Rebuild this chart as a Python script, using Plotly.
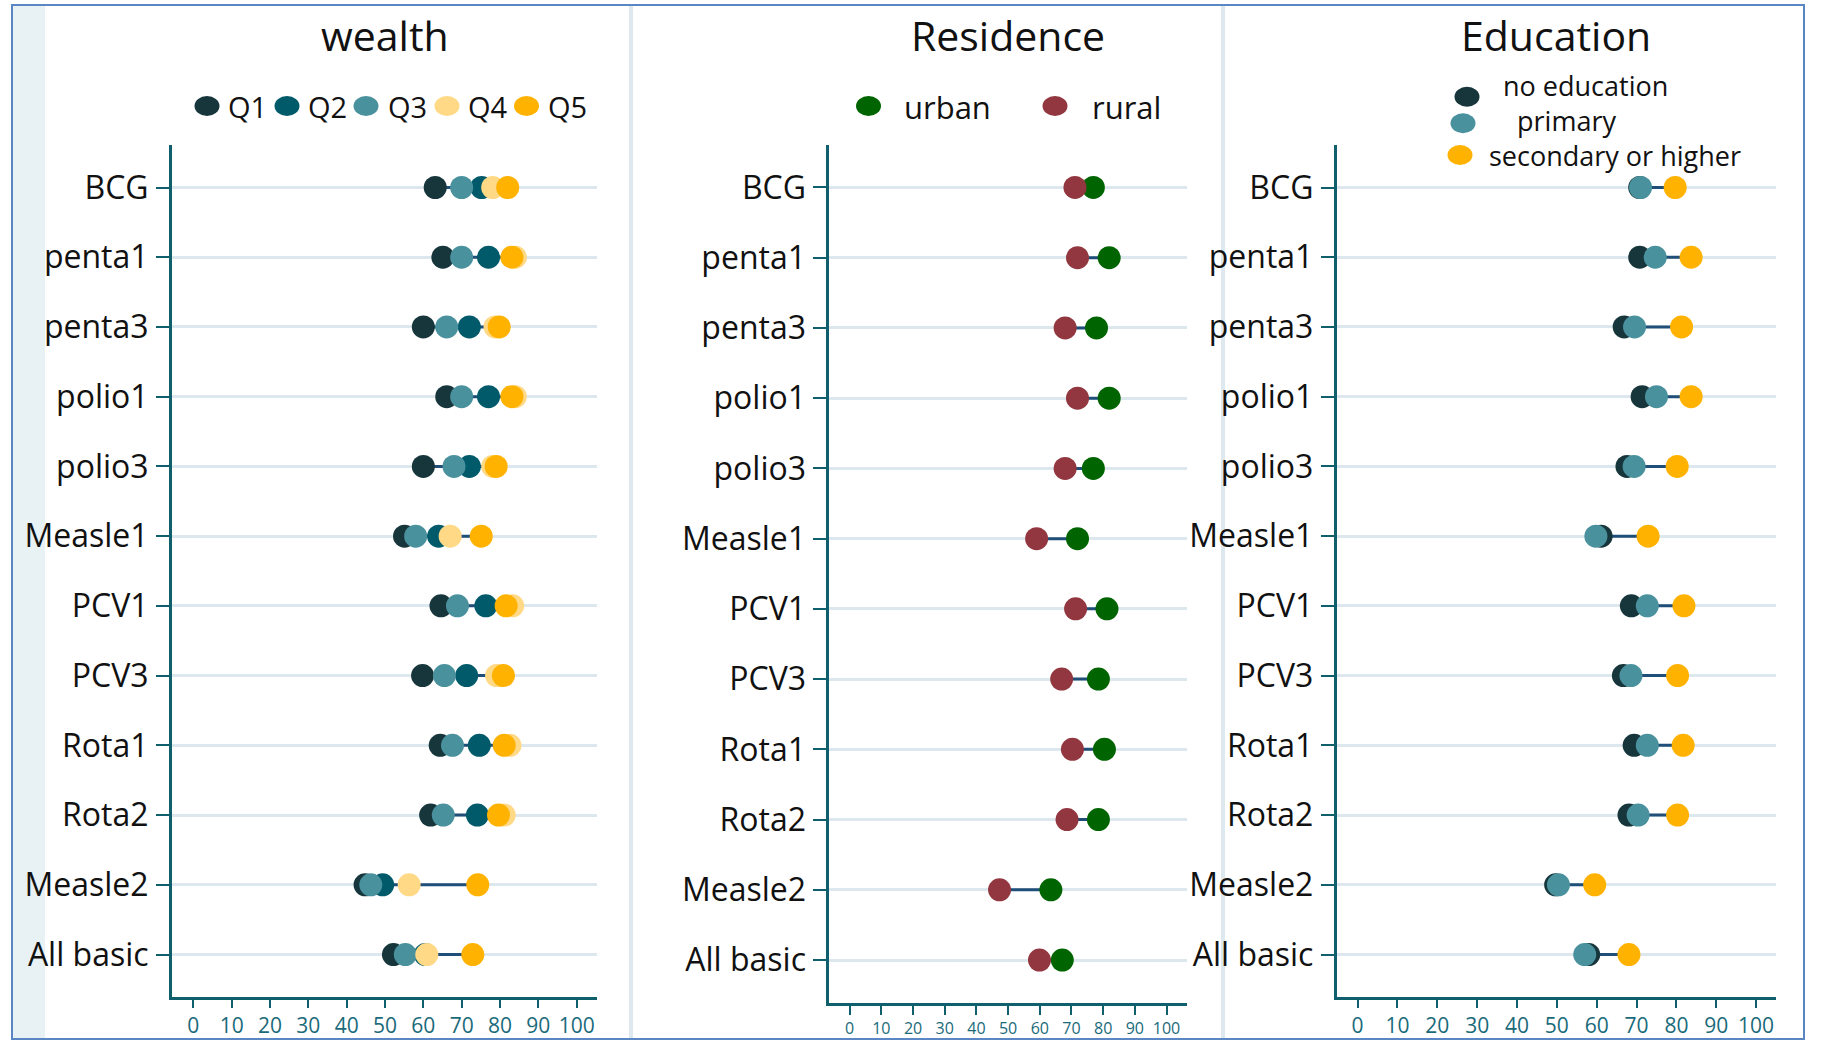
import plotly.graph_objects as go

W, H = 1825, 1041

vaccines = ["BCG", "penta1", "penta3", "polio1", "polio3", "Measle1",
            "PCV1", "PCV3", "Rota1", "Rota2", "Measle2", "All basic"]

# wealth quintiles
q1 = [63.1, 65.1, 60.0, 66.1, 60.0, 55.1, 64.6, 59.8, 64.4, 61.9, 44.8, 52.2]
q2 = [75.2, 77.0, 72.0, 77.0, 72.0, 64.0, 76.3, 71.3, 74.6, 74.1, 49.4, 60.5]
q3 = [70.0, 70.0, 66.1, 70.0, 68.0, 58.0, 68.9, 65.5, 67.6, 65.2, 46.3, 55.3]
q4 = [78.1, 84.0, 78.7, 84.0, 78.1, 67.0, 83.3, 79.1, 82.6, 81.1, 56.3, 60.9]
q5 = [82.0, 83.1, 79.8, 83.1, 79.0, 75.1, 81.6, 80.9, 81.1, 79.6, 74.2, 72.9]

# residence
urban = [76.9, 81.9, 77.9, 81.9, 76.9, 71.9, 81.2, 78.5, 80.4, 78.5, 63.5, 67.1]
rural = [71.1, 71.9, 68.0, 71.9, 68.0, 59.0, 71.3, 66.9, 70.3, 68.6, 47.3, 59.9]

# education
no_edu = [70.8, 70.8, 66.9, 71.4, 67.6, 61.1, 68.7, 66.7, 69.4, 68.1, 49.7, 58.0]
primary = [71.0, 74.7, 69.5, 75.0, 69.4, 59.8, 72.7, 68.6, 72.7, 70.4, 50.4, 57.0]
secondary = [79.7, 83.7, 81.3, 83.7, 80.2, 72.9, 81.9, 80.3, 81.7, 80.3, 59.5, 68.1]

x_ticks = list(range(0, 101, 10))

C_Q1, C_Q2, C_Q3, C_Q4, C_Q5 = "#17363c", "#015a6a", "#4a919e", "#ffd985", "#ffb200"
C_URB, C_RUR = "#006400", "#92373f"
C_AXIS = "#0f5f6d"
C_GRID = "#dce8ee"
C_LINK = "#1f4e79"
FONT = "Open Sans"

panels = [
    dict(title="wealth", series=[("Q1", q1, C_Q1), ("Q2", q2, C_Q2), ("Q3", q3, C_Q3),
                                  ("Q4", q4, C_Q4), ("Q5", q5, C_Q5)],
         xdom=(172, 597), xr=(-5.56, 105.3), ybot=996.7, yr=(11.605, -0.6095), tfs=21, tl=8),
    dict(title="Residence", series=[("urban", urban, C_URB), ("rural", rural, C_RUR)],
         xdom=(829.4, 1186.5), xr=(-6.4, 106.3), ybot=1003, yr=(11.612, -0.605), tfs=16, tl=9),
    dict(title="Education", series=[("no education", no_edu, C_Q1), ("primary", primary, C_Q3),
                                     ("secondary or higher", secondary, C_Q5)],
         xdom=(1336.8, 1776.4), xr=(-5.22, 105.1), ybot=996.7, yr=(11.605, -0.6095), tfs=21, tl=8),
]

YTOP = 145

fig = go.Figure()
layout = dict(width=W, height=H, margin=dict(l=0, r=0, t=0, b=0, autoexpand=False),
              paper_bgcolor="white", plot_bgcolor="white", showlegend=False,
              font=dict(family=FONT, color="#111111"))

for i, p in enumerate(panels):
    sfx = "" if i == 0 else str(i + 1)
    xa, ya = "x" + sfx, "y" + sfx
    vals = [s[1] for s in p["series"]]
    lx, ly = [], []
    for j, v in enumerate(vaccines):
        row = [s[j] for s in vals]
        lx += [min(row), max(row), None]
        ly += [v, v, None]
    fig.add_trace(go.Scatter(x=lx, y=ly, mode="lines", xaxis=xa, yaxis=ya,
                             line=dict(color=C_LINK, width=3), hoverinfo="skip"))
    for name, s, col in p["series"]:
        fig.add_trace(go.Scatter(x=s, y=vaccines, mode="markers", name=name,
                                 xaxis=xa, yaxis=ya, cliponaxis=False,
                                 marker=dict(size=23, color=col, line=dict(width=0))))
    layout["xaxis" + sfx] = dict(
        domain=[p["xdom"][0] / W, p["xdom"][1] / W], range=list(p["xr"]),
        anchor=ya, tickvals=x_ticks, ticks="outside", ticklen=p["tl"], tickwidth=2,
        tickcolor=C_AXIS, showline=True, linecolor=C_AXIS, linewidth=3,
        showgrid=False, zeroline=False, automargin=False,
        tickfont=dict(family=FONT, size=p["tfs"], color="#1a6a7a"))
    layout["yaxis" + sfx] = dict(
        domain=[1 - p["ybot"] / H, 1 - YTOP / H], range=list(p["yr"]),
        anchor=xa, type="category", categoryorder="array", categoryarray=vaccines,
        ticks="outside", ticklen=13, tickwidth=2, tickcolor=C_AXIS,
        showline=True, linecolor=C_AXIS, linewidth=3, automargin=False,
        showgrid=True, gridcolor=C_GRID, gridwidth=3, zeroline=False,
        ticklabelstandoff=1,
        tickfont=dict(family=FONT, size=32, color="#111111"))


def px(x):
    return x / W


def py(y):
    return 1 - y / H


shapes = [
    dict(type="rect", xref="paper", yref="paper", x0=px(12), x1=px(45), y0=py(1039), y1=py(5),
         fillcolor="#e8f1f4", line=dict(width=0), layer="below"),
    dict(type="line", xref="paper", yref="paper", x0=px(631), x1=px(631), y0=py(1039), y1=py(5),
         line=dict(color="#dde9ef", width=4), layer="below"),
    dict(type="line", xref="paper", yref="paper", x0=px(1223), x1=px(1223), y0=py(1039), y1=py(5),
         line=dict(color="#dde9ef", width=4), layer="below"),
    dict(type="rect", xref="paper", yref="paper", x0=px(12), x1=px(1804), y0=py(1039), y1=py(5),
         fillcolor="rgba(0,0,0,0)", line=dict(color="#5a86c4", width=2), layer="above"),
]

annotations = []
titles = [("wealth", 385), ("Residence", 1008), ("Education", 1556)]
for t, cx in titles:
    annotations.append(dict(text=t, x=px(cx), y=py(35), xref="paper", yref="paper",
                            xanchor="center", yanchor="middle", showarrow=False,
                            font=dict(family=FONT, size=41, color="#111111")))

# legend glyphs: (dot centre x, dot centre y, colour)
legend_dots = [
    (207, 106, C_Q1), (287, 106, C_Q2), (366, 106, C_Q3), (447, 106, C_Q4), (526.5, 106, C_Q5),
    (868.5, 106, C_URB), (1055, 106, C_RUR),
    (1467, 96.7, C_Q1), (1463, 123.3, C_Q3), (1460, 155, C_Q5),
]
for dx, dy, col in legend_dots:
    shapes.append(dict(type="circle", xref="paper", yref="paper",
                       x0=px(dx - 12.5), x1=px(dx + 12.5), y0=py(dy + 10), y1=py(dy - 10),
                       fillcolor=col, line=dict(width=0)))

# legend labels: (left x, mid y, text, font size)
legend_labels = [
    (226, 106, "Q1", 29), (306, 106, "Q2", 29), (386, 106, "Q3", 29),
    (466, 106, "Q4", 29), (546, 106, "Q5", 29),
    (902, 107, "urban", 31), (1090, 107, "rural", 31),
]
for tx, ty, txt, fs in legend_labels:
    annotations.append(dict(text=txt, x=px(tx), y=py(ty), xref="paper", yref="paper",
                            xanchor="left", yanchor="middle", showarrow=False,
                            font=dict(family=FONT, size=fs, color="#111111")))

edu_legend = "&nbsp;&nbsp;no education<br>&nbsp;&nbsp;&nbsp;&nbsp;primary<br>secondary or higher"
annotations.append(dict(text=edu_legend, x=px(1487), y=py(121), xref="paper", yref="paper",
                        xanchor="left", yanchor="middle", align="left", showarrow=False,
                        font=dict(family=FONT, size=27, color="#111111")))

layout["shapes"] = shapes
layout["annotations"] = annotations
fig.update_layout(**layout)

fig.write_html("out.html", config={"displayModeBar": False},
               post_script="document.body.style.margin='0';document.body.style.overflow='hidden';")
